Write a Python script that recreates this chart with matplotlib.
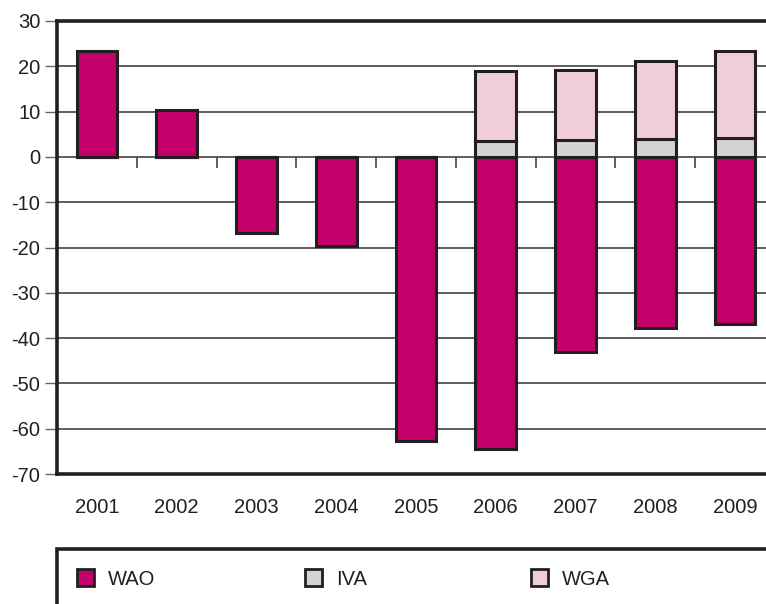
import matplotlib
matplotlib.use("Agg")
import matplotlib.pyplot as plt
from matplotlib.patches import Patch, Rectangle
import numpy as np

plt.rcParams["font.family"] = ["Liberation Sans", "DejaVu Sans"]
plt.rcParams["axes.unicode_minus"] = False

years = ["2001", "2002", "2003", "2004", "2005", "2006", "2007", "2008", "2009"]
wao = [23.3, 10.4, -16.8, -19.6, -62.7, -64.4, -43.0, -37.7, -36.9]
iva = [0, 0, 0, 0, 0, 3.5, 3.7, 3.9, 4.2]
wga = [0, 0, 0, 0, 0, 15.5, 15.5, 17.2, 19.2]

series = ["WAO", "IVA", "WGA"]
colors = ["#C4006A", "#D1D3D4", "#F0CED9"]
edge = "#231F20"

x = np.arange(len(years))
fig = plt.figure(figsize=(7.66, 6.04), dpi=100)
ax = fig.add_axes([57 / 766, 1 - 474 / 604, 718 / 766, 453 / 604])

bw = 0.51
ax.bar(x, wao, bw, color=colors[0], edgecolor=edge, linewidth=2.2, zorder=3)
ax.bar(x, iva, bw, bottom=0, color=colors[1], edgecolor=edge, linewidth=2.2, zorder=3)
ax.bar(x, wga, bw, bottom=iva, color=colors[2], edgecolor=edge, linewidth=2.2, zorder=3)

ax.set_xlim(-0.5, len(years) - 0.5)
ax.set_ylim(-70, 30)
ax.set_yticks(np.arange(-70, 31, 10))
ax.set_xticks(x)
ax.set_xticklabels(years)
ax.grid(axis="y", color="#333333", linewidth=1.1, zorder=1)
ax.tick_params(axis="y", length=9, width=1, color="#666666", labelsize=14.5, pad=3)
ax.tick_params(axis="x", length=0, labelsize=14.5, pad=17, colors="#231F20")
ax.tick_params(axis="y", labelcolor="#231F20")

# small ticks between the categories on the zero line
ax.vlines(x[1:] - 0.5, -2.4, 0, color="#444444", linewidth=1.2, zorder=2)

for s in ["top", "bottom", "left"]:
    ax.spines[s].set_linewidth(2.6)
    ax.spines[s].set_color(edge)
ax.spines["right"].set_visible(False)

# legend frame: only top and left edge visible
fig.add_artist(Rectangle((57 / 766, -0.2), 1.0, 1.2 - 549 / 604,
                         transform=fig.transFigure, fill=False,
                         edgecolor=edge, linewidth=2.6))

leg_x = [77 / 766, 305 / 766, 531 / 766]
for name, c, lx in zip(series, colors, leg_x):
    lg = fig.legend(handles=[Patch(facecolor=c, edgecolor=edge, linewidth=2)],
                    labels=[name], loc="center left",
                    bbox_to_anchor=(lx, 1 - 579 / 604), frameon=False,
                    fontsize=14.5, handlelength=0.85, handleheight=0.85,
                    handletextpad=0.7, borderpad=0, borderaxespad=0)
    for t in lg.get_texts():
        t.set_color("#231F20")

fig.savefig("out.png", dpi=100)
